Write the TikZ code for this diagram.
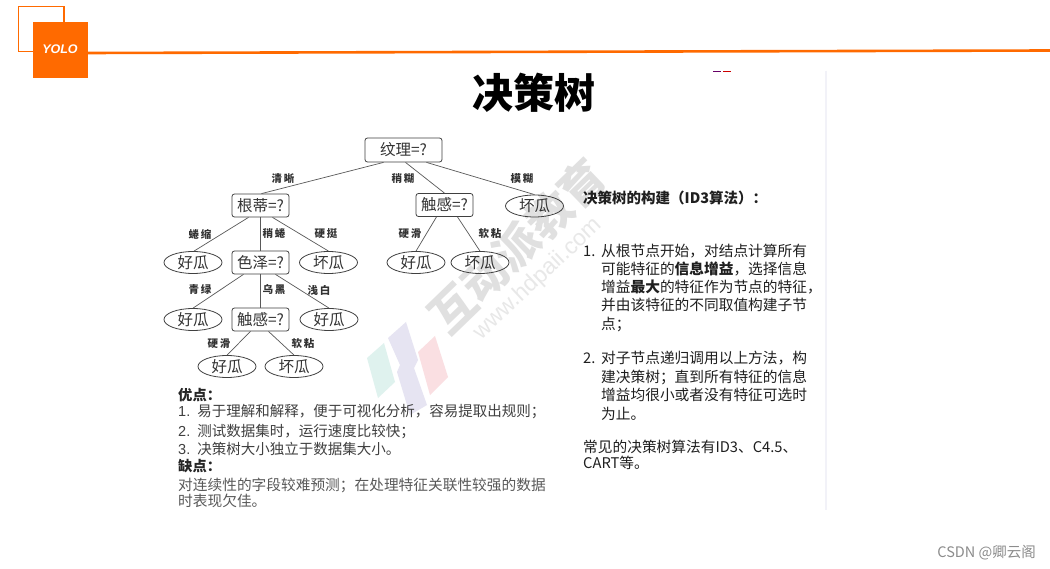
\documentclass[tikz,border=0pt]{standalone}
\usepackage{fontspec}
\setmainfont{Noto Sans CJK SC}
\newfontfamily\latinsans{Liberation Sans}
\usetikzlibrary{shapes.geometric}
\definecolor{brand}{HTML}{FF6A00}
\definecolor{wmteal}{HTML}{DFF2EE}
\definecolor{wmviolet}{HTML}{E6E4F2}
\definecolor{wmred}{HTML}{FADFE2}
\definecolor{divider}{HTML}{F2F2F8}
\newcommand{\fs}[1]{\fontsize{#1}{#1}\selectfont}
\tikzset{
  x=1pt,y=-1pt,
  question/.style={draw=black!75,line width=0.8pt,rounded corners=2.5pt,minimum width=57pt,minimum height=23pt,inner sep=0pt,font=\fs{15.5},text=black!80},
  leaf/.style={draw=black!75,line width=0.8pt,ellipse,minimum width=58pt,minimum height=22pt,inner sep=0pt,font=\fs{15.5},text=black!80},
  branch/.style={draw=black!65,line width=0.7pt},
  edgelabel/.style={font=\fs{10.5}\bfseries,text=black!80,inner sep=0pt},
  lefttext/.style={anchor=base west,inner sep=0pt,font=\fs{14.5},text=black!75},
  lefthead/.style={anchor=base west,inner sep=0pt,font=\fs{14.3}\bfseries,text=black!85},
  righttext/.style={anchor=base west,inner sep=0pt,font=\fs{14.7},text=black!88},
}
\begin{document}
\begin{tikzpicture}
\useasboundingbox (0,0) rectangle (1050,569);
\fill[white] (0,0) rectangle (1050,569);
% header
\draw[brand,line width=1.5pt] (18.5,6.5) rectangle (64,51.5);
\fill[brand] (33,22) rectangle (88,78);
\draw[brand,line width=2.6pt] (88,53) -- (1050,50.5);
\node[inner sep=0pt,text=white,font=\latinsans\fs{12.5}\bfseries\itshape] (logo) at (60,49.5) {YOLO};
% stray marks and divider
\draw[color=violet!80!black,line width=1pt] (713,71.5) -- (721,71.5);
\draw[color=red!80!black,line width=1pt] (723,71.5) -- (731,71.5);
\draw[color=divider,line width=2pt] (825.5,71) -- (825.5,510);
% watermark
\fill[wmteal] (367,358) -- (384,343) -- (395,382) -- (378,398) -- cycle;
\fill[wmviolet] (388,338) -- (406,322) -- (418,360) -- (414,368) -- (427,405) -- (410,415) -- (397,372) -- (400,365) -- cycle;
\fill[wmred] (418,352) -- (435,336) -- (448,377) -- (430,395) -- cycle;
\node[rotate=44,inner sep=0pt,text=black!12,font=\fs{45}\bfseries] (wm) at (517,246) {互动派教育};
\node[rotate=43,inner sep=0pt,text=black!9,font=\latinsans\fs{23}] (wmurl) at (538,279) {www.hdpaii.com};
% title
\node[inner sep=0pt,font=\fs{41}\bfseries,text=black] (title) at (534,93) {决策树};
% tree nodes
\node[question,minimum width=77pt,minimum height=24pt] (a) at (403.5,150) {纹理=?};
\node[question] (b) at (260.5,205.5) {根蒂=?};
\node[question] (c) at (444.5,205) {触感=?};
\node[leaf] (d) at (534.5,206) {坏瓜};
\node[leaf] (e) at (193,262.5) {好瓜};
\node[question] (f) at (260.5,262.5) {色泽=?};
\node[leaf] (g) at (328.5,262.5) {坏瓜};
\node[leaf] (h) at (416,262.5) {好瓜};
\node[leaf] (i) at (480,262.5) {坏瓜};
\node[leaf] (j) at (193,319.5) {好瓜};
\node[question] (k) at (260.5,319.5) {触感=?};
\node[leaf] (l) at (329,319.5) {好瓜};
\node[leaf] (m) at (227,366.5) {好瓜};
\node[leaf] (n) at (294,366.5) {坏瓜};
% tree edges
\draw[branch] ([xshift=-20pt]a.south) -- ([xshift=1pt]b.north);
\draw[branch] ([xshift=2pt]a.south) -- (c.north);
\draw[branch] ([xshift=23pt]a.south) -- (d.north);
\draw[branch] ([xshift=-12pt]b.south) -- ([xshift=1pt]e.north);
\draw[branch] (b.south) -- (f.north);
\draw[branch] ([xshift=12pt]b.south) -- (g.north);
\draw[branch] ([xshift=-8pt]c.south) -- (h.north);
\draw[branch] ([xshift=13pt]c.south) -- (i.north);
\draw[branch] ([xshift=-17pt]f.south) -- (j.north);
\draw[branch] (f.south) -- (k.north);
\draw[branch] ([xshift=15pt]f.south) -- (l.north);
\draw[branch] ([xshift=-10pt]k.south) -- (m.north);
\draw[branch] ([xshift=8pt]k.south) -- (n.north);
% edge labels
\node[edgelabel] (l1) at (283,179) {清\,晰};
\node[edgelabel] (l2) at (403,179) {稍\,糊};
\node[edgelabel] (l3) at (522,179) {模\,糊};
\node[edgelabel] (l4) at (200,234) {蜷\,缩};
\node[edgelabel] (l5) at (274,234) {稍\,蜷};
\node[edgelabel] (l6) at (326,234) {硬\,挺};
\node[edgelabel] (l7) at (410,234) {硬\,滑};
\node[edgelabel] (l8) at (490,234) {软\,粘};
\node[edgelabel] (l9) at (200,290) {青\,绿};
\node[edgelabel] (l10) at (274,290) {乌\,黑};
\node[edgelabel] (l11) at (319,290) {浅\,白};
\node[edgelabel] (l12) at (219,344) {硬\,滑};
\node[edgelabel] (l13) at (303,344) {软\,粘};
% left text
\node[lefthead] (t1) at (178,400) {优点：};
\node[lefttext] (t2) at (178,417) {{\latinsans 1.}\hspace{7pt}易于理解和解释，便于可视化分析，容易提取出规则；};
\node[lefttext] (t3) at (178,436) {{\latinsans 2.}\hspace{7pt}测试数据集时，运行速度比较快；};
\node[lefttext] (t4) at (178,454) {{\latinsans 3.}\hspace{7pt}决策树大小独立于数据集大小。};
\node[lefthead] (t5) at (178,471) {缺点：};
\node[lefttext,font=\fs{14.7},text=black!65] (t6) at (178,490) {对连续性的字段较难预测；在处理特征关联性较强的数据};
\node[lefttext,font=\fs{14.7},text=black!65] (t7) at (178,506) {时表现欠佳。};
% right text
\node[righttext,font=\fs{14.5}\bfseries] (r0) at (583,204) {决策树的构建（ID3算法）：};
\node[righttext] (r1n) at (583,257) {1.};
\node[righttext] (r1) at (601,257) {从根节点开始，对结点计算所有};
\node[righttext] (r2) at (601,275) {可能特征的\textbf{信息增益}，选择信息};
\node[righttext] (r3) at (601,293) {增益\textbf{最大}的特征作为节点的特征，};
\node[righttext] (r4) at (601,311) {并由该特征的不同取值构建子节};
\node[righttext] (r5) at (601,330) {点；};
\node[righttext] (r6n) at (583,364) {2.};
\node[righttext] (r6) at (601,364) {对子节点递归调用以上方法，构};
\node[righttext] (r7) at (601,382) {建决策树；直到所有特征的信息};
\node[righttext] (r8) at (601,400) {增益均很小或者没有特征可选时};
\node[righttext] (r9) at (601,419) {为止。};
\node[righttext] (r10) at (583,452) {常见的决策树算法有ID3、C4.5、};
\node[righttext] (r11) at (583,468) {CART等。};
% credit
\node[anchor=east,inner sep=0pt,text=black!45,font=\fs{14.5}] (csdn) at (1036,553) {CSDN @卿云阁};
\end{tikzpicture}
\end{document}
